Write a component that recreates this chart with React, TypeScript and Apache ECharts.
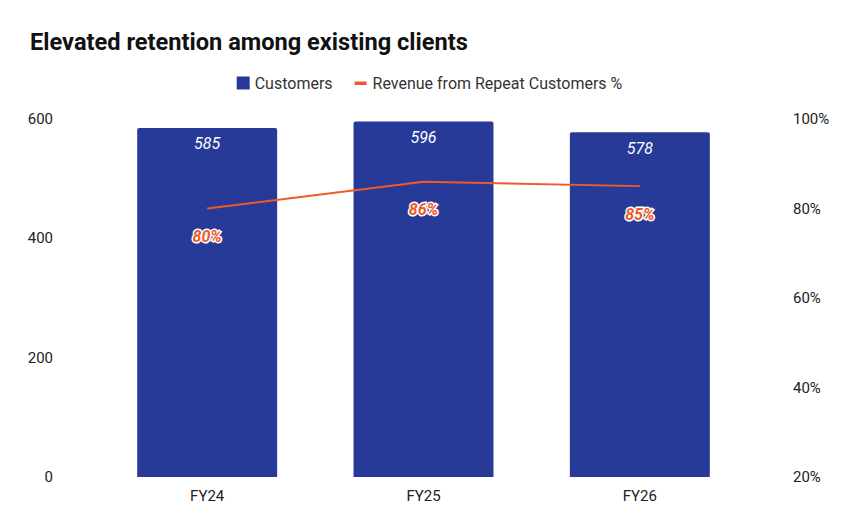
import { useEffect, useRef } from 'react';
import * as echarts from 'echarts';

const years = ['FY24', 'FY25', 'FY26'];
const customers = [585, 596, 578];
const repeatRevenuePct = [80, 86, 85];

const BAR_BLUE = '#283a97';
const LINE_ORANGE = '#ee5b2b';
// short thick dash, padded to a square box so the legend does not stretch it
const DASH_ICON = 'path://M0,0 M13,13 M0,5 L12,5 L12,8.5 L0,8.5 Z';

export default function App() {
  const ref = useRef<HTMLDivElement>(null);

  useEffect(() => {
    document.body.style.margin = '0';
    if (!ref.current) return;
    const chart = echarts.init(ref.current, undefined, { renderer: 'svg' });
    chart.setOption({
      animation: false,
      textStyle: { fontFamily: 'Roboto' },
      title: {
        text: 'Elevated retention among existing clients',
        left: 25,
        top: 25,
        textStyle: { fontSize: 23.6, fontWeight: 'bold', color: '#111', fontFamily: 'Roboto' },
      },
      legend: {
        top: 70,
        left: 'center',
        itemGap: 22,
        itemWidth: 13,
        itemHeight: 13,
        textStyle: { fontSize: 16, color: '#333' },
        data: [
          { name: 'Customers', icon: 'rect' },
          { name: 'Revenue from Repeat Customers %', icon: DASH_ICON, itemStyle: { color: LINE_ORANGE } },
        ],
      },
      grid: { left: 99, right: 111, top: 119, bottom: 54 },
      xAxis: {
        type: 'category',
        data: years,
        axisLine: { show: false },
        axisTick: { show: false },
        axisLabel: { color: '#222', fontSize: 15, margin: 11 },
      },
      yAxis: [
        {
          type: 'value',
          min: 0,
          max: 600,
          interval: 200,
          splitLine: { show: false },
          axisLabel: { color: '#222', fontSize: 15, margin: 46 },
        },
        {
          type: 'value',
          min: 20,
          max: 100,
          interval: 20,
          splitLine: { show: false },
          axisLabel: { color: '#222', fontSize: 15, margin: 45, formatter: '{value}%' },
        },
      ],
      series: [
        {
          name: 'Customers',
          type: 'bar',
          data: customers,
          barWidth: '64.7%',
          itemStyle: { color: BAR_BLUE, borderRadius: [2, 2, 0, 0] },
          label: {
            show: true,
            position: 'insideTop',
            distance: 8,
            color: '#fff',
            fontSize: 16,
            fontStyle: 'italic',
          },
        },
        {
          name: 'Revenue from Repeat Customers %',
          type: 'line',
          yAxisIndex: 1,
          data: repeatRevenuePct,
          symbol: 'circle',
          symbolSize: 0.1,
          lineStyle: { color: LINE_ORANGE, width: 2 },
          itemStyle: { color: LINE_ORANGE },
          label: {
            show: true,
            position: 'bottom',
            distance: 20,
            formatter: '{c}%',
            color: LINE_ORANGE,
            fontSize: 16,
            fontWeight: 'bold',
            fontStyle: 'italic',
            textBorderColor: '#fff',
            textBorderWidth: 3,
          },
        },
      ],
    });
    return () => chart.dispose();
  }, []);

  return <div ref={ref} style={{ width: 859, height: 531 }} />;
}
